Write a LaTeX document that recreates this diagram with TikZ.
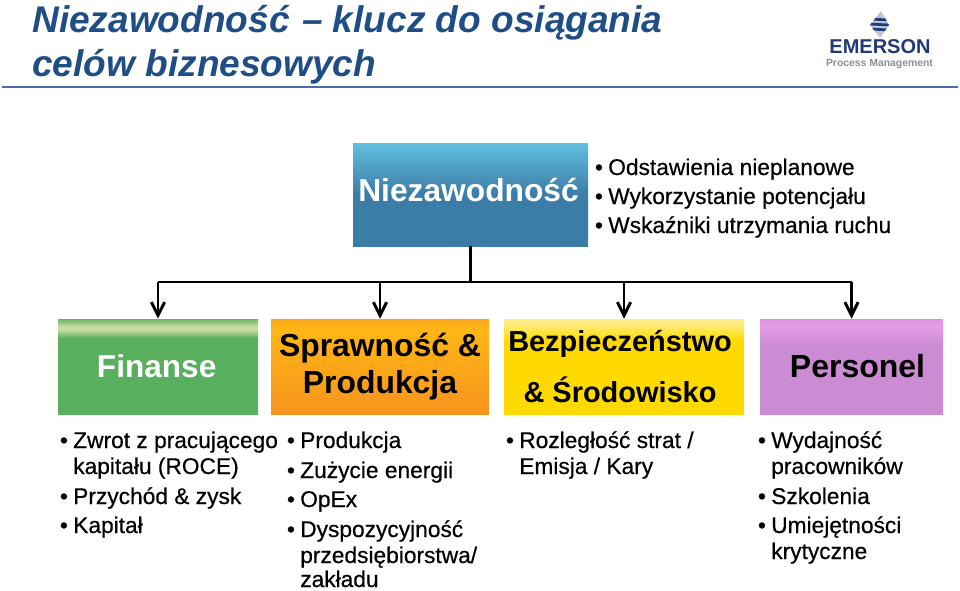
\documentclass[tikz,border=0pt]{standalone}
\usepackage{fontspec}
\setmainfont{Liberation Sans}
\newfontfamily\listfont[FakeBold=0.5]{Liberation Sans}
\usepackage{xcolor}
\usetikzlibrary{arrows.meta,calc,positioning}
\definecolor{titleblue}{HTML}{1F4E87}
\definecolor{rulecol}{HTML}{4A6CA0}
\definecolor{logonavy}{HTML}{1F3A75}
\definecolor{logogrey}{HTML}{8A8F96}
\definecolor{topA}{HTML}{62BEDF}
\definecolor{topB}{HTML}{3C7DA8}
\definecolor{finA}{HTML}{C9DD9F}
\definecolor{finB}{HTML}{59AF5E}
\definecolor{sprA}{HTML}{FFB714}
\definecolor{sprB}{HTML}{F8931F}
\definecolor{bezA}{HTML}{FFEE88}
\definecolor{bezB}{HTML}{FFDA00}
\definecolor{perA}{HTML}{E89CE8}
\definecolor{perB}{HTML}{CB8CD3}
% stops: 25bp is the lower edge of a box, 75bp the upper edge
\pgfdeclareverticalshading{topshade}{100bp}{color(0bp)=(topB); color(50bp)=(topB); color(75bp)=(topA); color(100bp)=(topA)}
\pgfdeclareverticalshading{finshade}{100bp}{color(0bp)=(finB); color(65bp)=(finB); color(69.5bp)=(finA); color(71bp)=(finA); color(75bp)=(finB!85!finA); color(100bp)=(finB)}
\pgfdeclareverticalshading{sprshade}{100bp}{color(0bp)=(sprB); color(25bp)=(sprB); color(70bp)=(sprA); color(75bp)=(sprB!50!sprA); color(100bp)=(sprB)}
\pgfdeclareverticalshading{bezshade}{100bp}{color(0bp)=(bezB); color(64bp)=(bezB); color(73bp)=(bezA); color(75bp)=(bezA); color(100bp)=(bezA)}
\pgfdeclareverticalshading{pershade}{100bp}{color(0bp)=(perB); color(61bp)=(perB); color(72bp)=(perA); color(75bp)=(perB!50!perA); color(100bp)=(perB)}
\tikzset{
  headbox/.style={inner sep=0pt,align=center,font=\fontsize{24}{29}\selectfont\bfseries},
  listline/.style={anchor=base west,inner sep=0pt,font=\fontsize{17.05}{18}\listfont},
  feed/.style={line width=2.2pt},
  feedarrow/.style={line width=2.2pt,-{Straight Barb[length=10pt,width=10pt,line width=2.2pt]}},
}
\begin{document}
\begin{tikzpicture}[x=0.75pt,y=-0.75pt]
\useasboundingbox (0,0) rectangle (960,590);
% Title
\node[anchor=base west,inner sep=0pt,text=titleblue,font=\fontsize{27.8}{32}\selectfont\bfseries\itshape] (titleA) at (32,32) {Niezawodność\hspace{1.5pt} – klucz do osiągania};
\node[anchor=base west,inner sep=0pt,text=titleblue,font=\fontsize{27.8}{32}\selectfont\bfseries\itshape] (titleB) at (32,76) {celów biznesowych};
\draw[rulecol,line width=1.2pt] (2,87) -- (958,87);
% Logo
\fill[logonavy!30!white] (881,11) -- (889,25) -- (880,38) -- (870,25) -- cycle;
\begin{scope}
\clip (881,11) -- (889,25) -- (880,38) -- (870,25) -- cycle;
\foreach \d in {19,24,29}{%
  \draw[logonavy,line width=2pt] (869,\d) -- (890,\d+1);
}
\end{scope}
\node[anchor=base,inner sep=0pt,text=logonavy,font=\fontsize{15}{16}\selectfont\bfseries] (logoA) at (880,53) {EMERSON};
\node[anchor=base,inner sep=0pt,text=logogrey,font=\fontsize{7.8}{10}\selectfont\bfseries] (logoB) at (879.5,66) {Process Management};
% Boxes
\node[headbox,shading=topshade,minimum width=176.25pt,minimum height=77.25pt,text=white,font=\fontsize{23.8}{29}\selectfont\bfseries] (rel) at (470.5,194.5) {\raisebox{7.5pt}{Niezawodność\hspace*{3pt}}};
\node[headbox,shading=finshade,minimum width=150pt,minimum height=71.25pt,text=white,font=\fontsize{23.7}{27}\selectfont\bfseries] (fin) at (158,366.5) {Finanse\hspace*{2pt}};
\node[headbox,shading=sprshade,minimum width=163.5pt,minimum height=71.25pt,font=\fontsize{23.9}{28}\selectfont\bfseries] (spr) at (380,366.5) {Sprawność \&\\Produkcja};
\node[headbox,shading=bezshade,minimum width=180pt,minimum height=71.25pt,font=\fontsize{21.7}{26}\selectfont\bfseries] (bez) at (624,366.5) {\raisebox{-1.5pt}{Bezpieczeństwo\hspace*{6pt}}\\[12pt]\raisebox{-1.5pt}{\& Środowisko\hspace*{6pt}}};
\node[headbox,shading=pershade,minimum width=137.25pt,minimum height=71.25pt,font=\fontsize{24}{28}\selectfont\bfseries] (per) at (851.5,366.5) {\hspace*{9pt}Personel};
% Connectors
\coordinate (bus) at (rel.south |- 0,282);
\coordinate (busfin) at (fin.north |- bus);
\coordinate (busper) at (per.north |- bus);
\draw[feed] (rel.south) -- (bus);
\draw[feed] (busfin) -- (busper);
\foreach \b in {fin,spr,bez,per}{%
  \draw[feedarrow] (\b.north |- bus) -- (\b.north);
}
% Bulleted lines: (x of text, baseline, label)
\foreach \tx/\ty/\lab in {%
  608/175/{Odstawienia nieplanowe},%
  608/204/{Wykorzystanie potencjału},%
  608/233/{Wskaźniki utrzymania ruchu},%
  73/448/{Zwrot z pracującego},%
  73/504/{Przychód \& zysk},%
  73/533/{Kapitał},%
  300/448/{Produkcja},%
  300/478/{Zużycie energii},%
  300/507/{OpEx},%
  300/537/{Dyspozycyjność},%
  519/448/{Rozległość strat /},%
  771/448/{Wydajność},%
  771/504/{Szkolenia},%
  771/533/{Umiejętności}}{%
  \node[listline] at (\tx,\ty) {\llap{•\hspace{4pt}}\lab};
}
% Continuation lines
\foreach \tx/\ty/\lab in {%
  73/474/{kapitału (ROCE)},%
  300/563/{przedsiębiorstwa/},%
  300/587/{zakładu},%
  519/474/{Emisja  / Kary},%
  771/474/{pracowników},%
  771/559/{krytyczne}}{%
  \node[listline] at (\tx,\ty) {\lab};
}
\end{tikzpicture}
\end{document}
